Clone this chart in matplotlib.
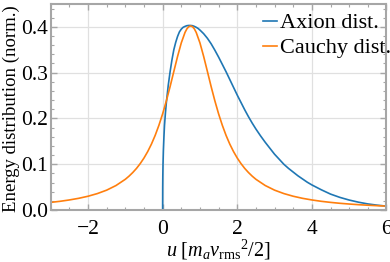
import matplotlib
matplotlib.use("Agg")
import matplotlib.pyplot as plt
from matplotlib.ticker import MultipleLocator, FormatStrFormatter

# values
axion_u = [-3, 0, 0.002, 0.005, 0.01, 0.02, 0.035, 0.05, 0.075, 0.1, 0.15, 0.2,
           0.25, 0.3, 0.35, 0.4, 0.45, 0.5, 0.55, 0.6, 0.65, 0.7, 0.75, 0.8,
           0.85, 0.9, 0.95, 1.0, 1.1, 1.2, 1.3, 1.4, 1.5, 1.6, 1.7, 1.8, 1.9,
           2.0, 2.1, 2.2, 2.3, 2.4, 2.5, 2.625, 2.75, 2.875, 3.0, 3.125, 3.25,
           3.375, 3.5, 3.625, 3.75, 3.875, 4.0, 4.25, 4.5, 4.75, 5.0, 5.25,
           5.5, 5.75, 6.0]
axion_f = [0, 0, 0.05, 0.075, 0.10, 0.13, 0.16, 0.185, 0.212, 0.235, 0.272,
           0.302, 0.328, 0.350, 0.366, 0.379, 0.389, 0.395, 0.399, 0.401,
           0.4025, 0.403, 0.403, 0.4025, 0.401, 0.399, 0.3965, 0.393, 0.385,
           0.375, 0.363, 0.349, 0.334, 0.318, 0.302, 0.285, 0.268, 0.251,
           0.235, 0.219, 0.204, 0.190, 0.177, 0.162, 0.148, 0.135, 0.122,
           0.111, 0.100, 0.091, 0.083, 0.075, 0.068, 0.061, 0.055, 0.0445,
           0.035, 0.0278, 0.022, 0.0173, 0.0135, 0.0108, 0.0087]

cauchy_u = [-3, -2.75, -2.5, -2.25, -2, -1.75, -1.5, -1.25, -1.0, -0.9, -0.8,
            -0.7, -0.6, -0.5, -0.4, -0.3, -0.2, -0.1, 0, 0.1, 0.2, 0.3, 0.4,
            0.5, 0.6, 0.65, 0.7, 0.75, 0.8, 0.85, 0.9, 1.0, 1.1, 1.2, 1.3, 1.4,
            1.5, 1.6, 1.7, 1.8, 1.9, 2.0, 2.1, 2.2, 2.3, 2.4, 2.5, 2.75, 3.0,
            3.25, 3.5, 3.75, 4.0, 4.25, 4.5, 4.75, 5.0, 5.25, 5.5, 5.75, 6.0]
cauchy_f = [0.0169, 0.01925, 0.0222, 0.02576, 0.0303, 0.0361, 0.0436, 0.0537,
            0.0673, 0.0742, 0.0821, 0.0911, 0.1016, 0.1137, 0.1278, 0.1441,
            0.1631, 0.1851, 0.2101, 0.2385, 0.2696, 0.3026, 0.3353, 0.3650,
            0.3878, 0.3956, 0.4004, 0.402, 0.4004, 0.3956, 0.3878, 0.3650,
            0.3353, 0.3026, 0.2696, 0.2385, 0.2101, 0.1851, 0.1631, 0.1441,
            0.1278, 0.1137, 0.1016, 0.0911, 0.0821, 0.0742, 0.0673, 0.0537,
            0.0436, 0.0361, 0.0303, 0.02576, 0.0222, 0.01925, 0.0169, 0.01491,
            0.0133, 0.01187, 0.0107, 0.00967, 0.0088]

plt.rcParams["font.family"] = ["Liberation Serif", "DejaVu Serif"]
plt.rcParams["mathtext.fontset"] = "custom"
plt.rcParams["mathtext.rm"] = "Liberation Serif"
plt.rcParams["mathtext.it"] = "Liberation Serif:italic"
plt.rcParams["font.size"] = 16

frame = "#a6a6a6"

fig = plt.figure(figsize=(3.9, 2.62), dpi=100)
ax = fig.add_axes([0.130, 0.198, 0.861, 0.787])

ax.plot(axion_u, axion_f, color="#1f77b4", lw=1.2, label="Axion dist.",
        solid_joinstyle="round")
ax.plot(cauchy_u, cauchy_f, color="#ff7f0e", lw=1.2, label="Cauchy dist.",
        solid_joinstyle="round")

ax.set_xlim(-3, 6)
ax.set_ylim(0, 0.45)
ax.xaxis.set_major_locator(MultipleLocator(2))
ax.xaxis.set_minor_locator(MultipleLocator(0.5))
ax.yaxis.set_major_locator(MultipleLocator(0.1))
ax.yaxis.set_minor_locator(MultipleLocator(0.02))
ax.yaxis.set_major_formatter(FormatStrFormatter("%.1f"))
ax.grid(True, which="major", color="#e0e0e0", lw=0.9)
ax.set_axisbelow(True)

for s in ax.spines.values():
    s.set_color(frame)
    s.set_linewidth(1.5)
ax.tick_params(which="both", direction="in", top=True, right=True,
               color=frame, labelcolor="black", labelsize=15.5)
ax.tick_params(axis="x", pad=7)
ax.tick_params(axis="y", pad=2)
ax.tick_params(which="major", length=4, width=1)
ax.tick_params(which="minor", length=2.5, width=0.8)

ax.set_xlabel(r"$u\ [m_a v_{\mathrm{rms}}{}^2/2]$", fontsize=14.5)
ax.xaxis.set_label_coords(0.5, -0.135)
ax.set_ylabel("Energy distribution (norm.)", fontsize=13.5)
ax.yaxis.set_label_coords(-0.092, 0.49)

ax.legend(loc="upper left", bbox_to_anchor=(0.605, 1.0), frameon=False,
          handlelength=0.64, handletextpad=0.12, borderaxespad=0.0,
          labelspacing=0.2, fontsize=16)

fig.savefig("out.png", dpi=100)
